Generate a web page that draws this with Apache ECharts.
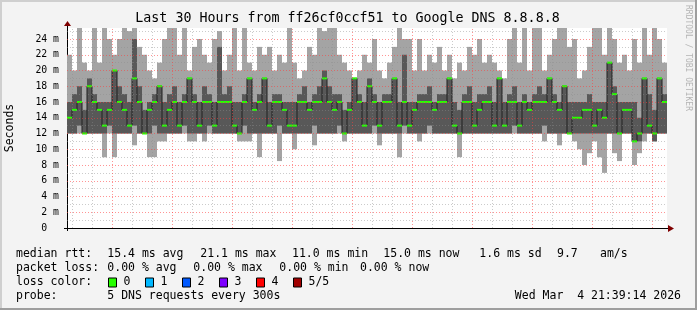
<!DOCTYPE html>
<html><head><meta charset="utf-8">
<script src="https://cdn.jsdelivr.net/npm/echarts@6/dist/echarts.min.js"></script>
<style>html,body{margin:0;padding:0;background:#f3f3f3}#c{width:697px;height:310px}</style>
</head><body><div id="c"></div>
<script>
// ---- chart data ----
const titleText = 'Last 30 Hours from ff26cf0ccf51 to Google DNS 8.8.8.8';
const stepMinutes = 15;          // width of one consolidated step
const startOffset = -135;        // minutes relative to Tue 18:00 at the left edge
const timeLabels = {0: 'Tue 18:00', 360: 'Wed 00:00', 720: 'Wed 06:00', 1080: 'Wed 12:00', 1440: 'Wed 18:00'};

// ping round trip times (ms), sorted pings per step: min, 2nd, median, 4th, max
const rttMin = [
  12,12,12,12,12,12,12,9,12,9, 12,12,12,10.5,12,12,9,9,11,11, 12,12,12,12,11,11,12,11,12,12, 12,12,12,12,11,11,11,12,9,12,
  12,12,8.5,12,12,10,12,12,12,10.5, 12,12,12,12,12,11,12,12,12,12, 12,12,10.5,12,12,12,9,12,12,12, 11,12,12,12,12,12,12,12,9,12,
  12,12,12,12,12,12,12,12,12,12, 12,12,12,12,12,11,12,12,10.5,12, 12,11,10,8,9.5,11,9,7,12,9.5, 8.5,12,12,8,9.5,11,12,11,12,12
];
const rttLow = [
  12,12,13,12,12,12,12,12,13,12, 12,12,12,13,12,12,12,13,12,12, 12,12,12,13,12,12,12,12,13,12, 12,12,12,12,12,13,12,12,12,12,
  12,12,13,12,12,12,12,12,12,13, 12,12,12,12,13,12,12,12,12,12, 12,13,12,12,12,12,12,13,12,12, 12,12,13,12,12,12,12,12,12,12,
  12,12,12,12,12,12,12,12,12,13, 12,12,12,12,12,13,12,12,12,12, 12,12,12,12,12,12,12,12,12,12, 12,12,12,11,11,12,12,11,12,12
];
const rttMedian = [
  14,15,16,12,18,16,15,13,15,20, 16,15,13,19,16,12,15,16,18,13, 15,16,13,16,19,16,13,16,16,13, 16,16,16,13,12,16,19,15,16,19,
  13,16,16,15,13,13,16,16,15,16, 16,19,16,15,16,12,15,19,16,13, 18,16,13,16,16,19,13,16,13,15, 16,16,16,15,16,16,19,13,12,16,
  16,13,15,16,16,13,19,13,16,16, 13,16,15,16,16,16,19,16,15,18, 12,14,14,15,15,13,15,14,21,17, 12,15,15,11,12,19,13,12,19,16
];
const rttHigh = [
  16,17,18,15,19,17,16,16,16,20, 18,17,16,24,18,15,16,17,18,16, 17,18,16,17,19,17,16,18,17,16, 23,17,18,16,16,17,19,16,17,19,
  16,17,17,16,16,16,17,18,16,17, 18,20,18,17,17,15,16,19,17,16, 19,17,16,17,17,19,16,22,16,16, 17,17,18,16,17,17,19,16,15,17,
  18,16,17,17,18,16,19,16,17,18, 16,17,16,17,18,17,19,17,16,18, 16,16,16,16,17,16,16,16,21,18, 16,16,16,16,14,19,17,15,19,17
];
const rttMax = [
  22,20,26,21,20,26,21,26,24,22, 24,26,25,26,23,22,20,19,21,24, 26,26,22,26,20,23,24,22,21,24, 25,20,22,26,20,26,21,20,23,22,
  23,20,22,21,26,21,19,20,23,22, 26,25,26,26,22,21,20,19,20,22, 21,24,20,19,21,23,26,24,24,20, 24,20,22,21,23,20,22,19,21,20,
  23,22,24,21,22,21,20,19,24,26, 21,26,20,26,26,20,22,24,26,26, 23,24,19,20,23,26,26,22,26,24, 21,22,20,24,21,26,22,26,24,21
];

// legend texts
const legendRows = [
  {label: 'median rtt:', parts: ['15.4 ms avg', '21.1 ms max', '11.0 ms min', '15.0 ms now', '1.6 ms sd', '9.7', 'am/s']},
  {label: 'packet loss:', parts: ['0.00 % avg', '0.00 % max', '0.00 % min', '0.00 % now']},
  {label: 'loss color:', parts: []},
  {label: 'probe:', parts: ['5 DNS requests every 300s']}
];
const lossLabels = ['0', '1', '2', '3', '4', '5/5'];
const lossColors = ['#26ff00', '#00b8ff', '#0059ff', '#7e00ff', '#ff0000', '#a10000'];
const stampText = 'Wed Mar  4 21:39:14 2026';

// ---- layout / style ----
const mono = 'DejaVu Sans Mono';
const yTop = 25.397;
const minorColor = 'rgba(140,140,140,0.45)';
const majorColor = 'rgba(255,60,60,0.55)';

const times = rttMedian.map((_, i) => startOffset + i * stepMinutes);
const smokeData = times.map((t, i) => [t, rttMin[i], rttLow[i], rttMedian[i], rttHigh[i], rttMax[i]]);
const medianLine = times.map((t, i) => [t, rttMedian[i]])
  .concat([[startOffset + rttMedian.length * stepMinutes, rttMedian[rttMedian.length - 1]]]);

function clampY(y, cs) { return Math.max(cs.y, Math.min(cs.y + cs.height, y)); }
function renderSmoke(params, api) {
  const cs = params.coordSys;
  const t = api.value(0);
  const x0 = api.coord([t, 0])[0];
  const x1 = api.coord([t + stepMinutes, 0])[0];
  const y = v => clampY(api.coord([t, v])[1], cs);
  const a = y(api.value(1)), b = y(api.value(2)), c = y(api.value(4)), d = y(api.value(5));
  return {type: 'group', children: [
    {type: 'rect', shape: {x: x0, y: d, width: x1 - x0, height: a - d}, style: {fill: '#a4a4a4'}},
    {type: 'rect', shape: {x: x0, y: c, width: x1 - x0, height: b - c}, style: {fill: '#585858'}}
  ]};
}
function renderMedian(params, api) {
  const t = api.value(0);
  const x0 = api.coord([t, 0])[0];
  const x1 = api.coord([t + stepMinutes, 0])[0];
  const ym = api.coord([t, api.value(3)])[1];
  return {type: 'rect', shape: {x: x0, y: ym - 1, width: x1 - x0, height: 2}, style: {fill: lossColors[0]}};
}

const gridLines = [];
for (let v = 1; v <= 25; v++) {
  gridLines.push({yAxis: v, lineStyle: {color: v % 2 ? minorColor : majorColor, type: [1, 2], width: 1}});
}
for (let t = -120; t <= 1620; t += 60) {
  gridLines.push({xAxis: t, lineStyle: {color: t % 180 === 0 ? majorColor : minorColor, type: [1, 2], width: 1}});
}

const graphics = [];
// frame
graphics.push({type: 'rect', shape: {x: 0, y: 0, width: 697, height: 2}, style: {fill: '#cfcfcf'}, silent: true});
graphics.push({type: 'rect', shape: {x: 0, y: 0, width: 2, height: 310}, style: {fill: '#cfcfcf'}, silent: true});
graphics.push({type: 'rect', shape: {x: 0, y: 308, width: 697, height: 2}, style: {fill: '#9e9e9e'}, silent: true});
graphics.push({type: 'rect', shape: {x: 695, y: 0, width: 2, height: 310}, style: {fill: '#9e9e9e'}, silent: true});
// title
graphics.push({type: 'text', x: 347.5, y: 19, style: {text: titleText, font: '13.3px "' + mono + '"', fill: '#000', textAlign: 'center', textVerticalAlign: 'middle'}});
// unit label
graphics.push({type: 'text', x: 10, y: 128, rotation: Math.PI / 2, style: {text: 'Seconds', font: '11.5px "' + mono + '"', fill: '#000', textAlign: 'center', textVerticalAlign: 'middle'}});
// watermark
graphics.push({type: 'text', x: 688, y: 5, rotation: -Math.PI / 2, style: {text: 'RRDTOOL / TOBI OETIKER', font: '8px "' + mono + '"', fill: '#b4b4b4', textAlign: 'left', textVerticalAlign: 'middle'}});
// axis overhangs + arrows
graphics.push({type: 'line', shape: {x1: 67.5, y1: 25, x2: 67.5, y2: 28}, style: {stroke: '#000', lineWidth: 1}});
graphics.push({type: 'line', shape: {x1: 67.5, y1: 228, x2: 67.5, y2: 231}, style: {stroke: '#000', lineWidth: 1}});
graphics.push({type: 'line', shape: {x1: 64, y1: 228.5, x2: 67, y2: 228.5}, style: {stroke: '#000', lineWidth: 1}});
graphics.push({type: 'line', shape: {x1: 667, y1: 228.5, x2: 669, y2: 228.5}, style: {stroke: '#000', lineWidth: 1}});
graphics.push({type: 'polygon', shape: {points: [[64, 26], [71, 26], [67.5, 21]]}, style: {fill: '#7f0000'}});
graphics.push({type: 'polygon', shape: {points: [[668, 225], [668, 232], [674, 228.5]]}, style: {fill: '#7f0000'}});

// legend rows
const rowY = [254.5, 268.5, 282.5, 296.5];
const partX = [[107.3, 200.3, 292, 383.3, 479.3, 557, 600], [107.3, 193.3, 279.3, 360], [], [107.3]];
const legendFont = '11.5px "' + mono + '"';
legendRows.forEach((row, r) => {
  graphics.push({type: 'text', x: 16, y: rowY[r], style: {text: row.label, font: legendFont, fill: '#000', textVerticalAlign: 'middle'}});
  row.parts.forEach((p, j) => {
    graphics.push({type: 'text', x: partX[r][j], y: rowY[r], style: {text: p, font: legendFont, fill: '#000', textVerticalAlign: 'middle'}});
  });
});
const boxX = [108.5, 145.5, 182.5, 219.5, 256.5, 293.5];
lossLabels.forEach((lab, j) => {
  graphics.push({type: 'rect', shape: {x: boxX[j], y: 278, width: 8, height: 9}, style: {fill: lossColors[j], stroke: '#000', lineWidth: 1}});
  graphics.push({type: 'text', x: boxX[j] + 15, y: rowY[2], style: {text: lab, font: legendFont, fill: '#000', textVerticalAlign: 'middle'}});
});
graphics.push({type: 'text', x: 681, y: rowY[3], style: {text: stampText, font: legendFont, fill: '#000', textAlign: 'right', textVerticalAlign: 'middle'}});

const chart = echarts.init(document.getElementById('c'), null, {renderer: 'canvas', width: 697, height: 310});
chart.setOption({
  animation: false,
  backgroundColor: '#f3f3f3',
  grid: {left: 67, top: 28, width: 600, height: 200, show: true, backgroundColor: '#ffffff', borderWidth: 0},
  xAxis: {
    type: 'value', min: startOffset, max: startOffset + 1800, interval: 360,
    axisLine: {show: true, onZero: false, lineStyle: {color: '#000', width: 1}},
    axisTick: {show: false}, splitLine: {show: false},
    axisLabel: {formatter: v => timeLabels[v] || '', fontFamily: mono, fontSize: 9.8, color: '#000', margin: 5, showMinLabel: false, showMaxLabel: false}
  },
  yAxis: {
    type: 'value', min: 0, max: yTop, interval: 2,
    axisLine: {show: true, onZero: false, lineStyle: {color: '#000', width: 1}},
    axisTick: {show: false}, splitLine: {show: false},
    axisLabel: {formatter: v => (v % 2 === 0 && v <= 24) ? (v === 0 ? '0  ' : v + ' m') : '', fontFamily: mono, fontSize: 9.8, color: '#000', margin: 8, showMaxLabel: false}
  },
  series: [
    {type: 'custom', name: 'smoke', data: smokeData, renderItem: renderSmoke, encode: {x: 0, y: [1, 5]}, z: 2, silent: true, clip: true},
    {type: 'line', name: 'median', data: medianLine, step: 'end', symbol: 'none', lineStyle: {color: '#202020', width: 1}, z: 3, silent: true},
    {type: 'custom', name: 'medianLoss', data: smokeData, renderItem: renderMedian, encode: {x: 0, y: 3}, z: 4, silent: true},
    {type: 'line', name: 'grid', data: [], z: 5, silent: true,
      markLine: {silent: true, symbol: ['none', 'none'], label: {show: false}, animation: false, data: gridLines}}
  ],
  graphic: {elements: graphics}
});
</script>
</body></html>
